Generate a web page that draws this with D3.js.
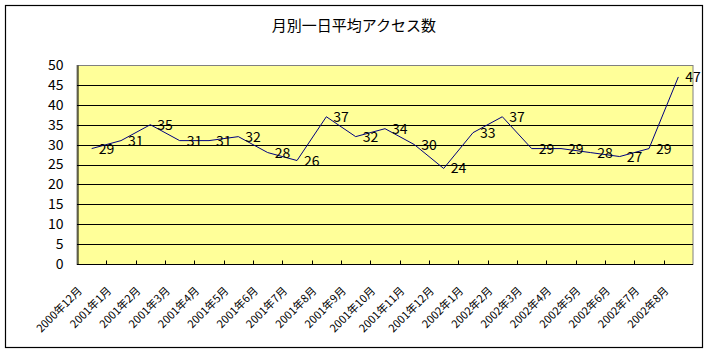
<!DOCTYPE html>
<html>
<head>
<meta charset="utf-8">
<script src="https://cdn.jsdelivr.net/npm/d3@7"></script>
<style>
  body { margin: 0; background: #fff; }
  svg { display: block; font-family: "Noto Sans CJK JP", "Noto Sans", sans-serif; }
</style>
</head>
<body>
<svg class="js-chart" width="710" height="354"></svg>
<script>
var months = ['2000年12月', '2001年1月', '2001年2月', '2001年3月', '2001年4月', '2001年5月',
              '2001年6月', '2001年7月', '2001年8月', '2001年9月', '2001年10月', '2001年11月',
              '2001年12月', '2002年1月', '2002年2月', '2002年3月', '2002年4月', '2002年5月',
              '2002年6月', '2002年7月', '2002年8月'];
var access = [29, 31, 35, 31, 31, 32, 28, 26, 37, 32, 34, 30, 24, 33, 37, 29, 29, 28, 27, 29, 47];
var yTicks = [0, 5, 10, 15, 20, 25, 30, 35, 40, 45, 50];
var title = '月別一日平均アクセス数';

var svg = d3.select('.js-chart'),
    plotL = 77, plotR = 693, plotT = 65, plotB = 264;

// outer frame
svg.append('rect')
    .attr('x', 5.5).attr('y', 5.5)
    .attr('width', 697).attr('height', 342)
    .attr('fill', '#fff').attr('stroke', '#000').attr('stroke-width', 1.2);

svg.append('text')
    .attr('x', 354).attr('y', 31)
    .attr('text-anchor', 'middle')
    .attr('font-size', 15)
    .text(title);

var x = d3.scaleBand().domain(months).range([plotL, plotR]).padding(0),
    y = d3.scaleLinear().domain([0, 50]).range([plotB, plotT]);

// plot area
svg.append('rect')
    .attr('x', plotL).attr('y', plotT + 0.5)
    .attr('width', plotR - plotL).attr('height', plotB - plotT)
    .attr('fill', '#ffff99').attr('stroke', '#808080');

// grid lines
svg.append('g')
    .selectAll('line')
    .data(yTicks.filter(function(d) { return d > 0 && d < 50; }))
    .enter()
    .append('line')
    .attr('x1', plotL).attr('x2', plotR)
    .attr('y1', function(d) { return Math.round(y(d)) + 0.5; })
    .attr('y2', function(d) { return Math.round(y(d)) + 0.5; })
    .attr('stroke', '#000');

// y axis
var yAxis = svg.append('g')
    .attr('transform', 'translate(' + (plotL + 0.5) + ',0)')
    .call(d3.axisLeft(y).tickValues(yTicks).tickSize(0).tickPadding(14));
yAxis.select('.domain').attr('stroke', '#000');
yAxis.selectAll('text').attr('font-size', 14).attr('fill', '#000')
    .attr('font-family', '"Noto Sans CJK JP", sans-serif');

// x axis with ticks between categories, pointing inward
var xAxis = svg.append('g')
    .attr('transform', 'translate(0,' + (plotB + 0.5) + ')');
xAxis.append('line')
    .attr('x1', plotL).attr('x2', plotR)
    .attr('stroke', '#000');
xAxis.selectAll('.tick-mark')
    .data(months.slice(1))
    .enter()
    .append('line')
    .attr('class', 'tick-mark')
    .attr('x1', function(d) { return Math.round(x(d)) + 0.5; })
    .attr('x2', function(d) { return Math.round(x(d)) + 0.5; })
    .attr('y1', 0).attr('y2', -4)
    .attr('stroke', '#000');
xAxis.selectAll('.label')
    .data(months)
    .enter()
    .append('text')
    .attr('class', 'label')
    .attr('font-size', 11)
    .attr('text-anchor', 'end')
    .attr('transform', function(d) {
      return 'translate(' + (x(d) + x.bandwidth() / 2 - 9) + ',27) rotate(-45)';
    })
    .text(function(d) { return d; });

// line
var cx = function(d, i) { return x(months[i]) + x.bandwidth() / 2; };
svg.append('path')
    .datum(access)
    .attr('fill', 'none')
    .attr('stroke', '#000080')
    .attr('stroke-width', 1)
    .attr('d', d3.line().x(cx).y(function(d) { return y(d); }));

// data labels
svg.append('g')
    .selectAll('text')
    .data(access)
    .enter()
    .append('text')
    .attr('x', function(d, i) { return cx(d, i) + 7; })
    .attr('y', function(d) { return y(d) + 5; })
    .attr('font-size', 14)
    .text(function(d) { return d; });
</script>
</body>
</html>
